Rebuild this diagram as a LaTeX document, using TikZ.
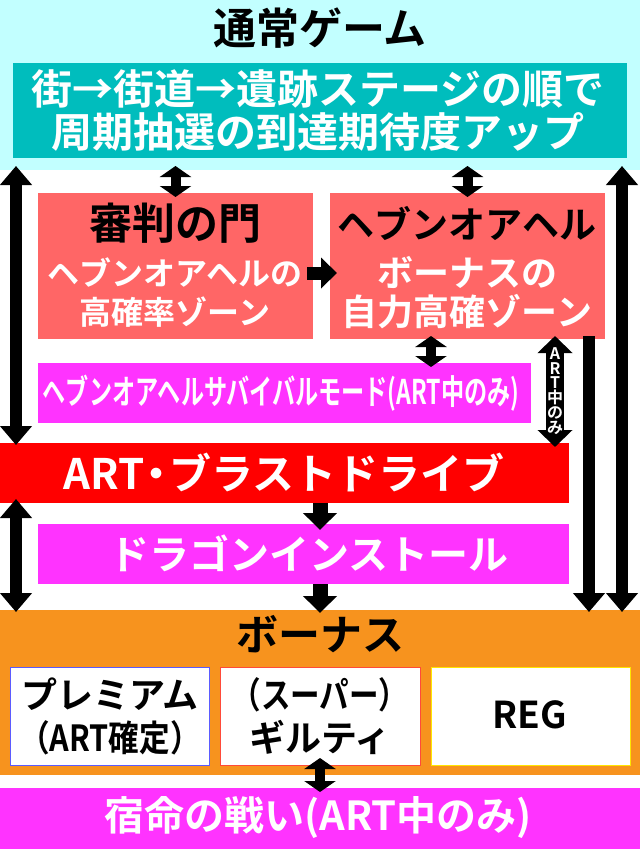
\documentclass[tikz,border=0pt]{standalone}
\usepackage{fontspec, graphicx}
\newfontfamily\jp{Noto Sans CJK JP}[UprightFont=* Bold]
\usetikzlibrary{arrows.meta, calc}
\newcommand{\jpsize}[2]{\jp\fontsize{#1}{#2}\selectfont}
\definecolor{normalcyan}{HTML}{C2FFFF}
\definecolor{stageteal}{HTML}{00BDBD}
\definecolor{zonered}{HTML}{FF6666}
\definecolor{modepink}{HTML}{FF33FF}
\definecolor{bonusorange}{HTML}{F7931E}
\definecolor{premblue}{HTML}{5B5BFF}
\definecolor{guiltyred}{HTML}{FF4A3A}
\definecolor{regyellow}{HTML}{FFE600}
\tikzset{
	panel/.style={anchor=north west, inner sep=0pt, outer sep=0pt},
	wlabel/.style={text=white, inner sep=0pt, align=center},
	blabel/.style={text=black, inner sep=0pt, align=center},
	longboth/.style={line width=12pt, {Triangle[width=31pt,length=19pt]}-{Triangle[width=31pt,length=19pt]}},
	longdown/.style={line width=12pt, -{Triangle[width=31pt,length=19pt]}},
	middown/.style={line width=15pt, -{Triangle[width=33pt,length=17pt]}},
	shortboth/.style={line width=10pt, {Triangle[width=31pt,length=11pt]}-{Triangle[width=31pt,length=11pt]}},
	artboth/.style={line width=18pt, {Triangle[width=34pt,length=17pt]}-{Triangle[width=34pt,length=17pt]}},
}

\begin{document}
\begin{tikzpicture}[x=1pt, y=-1pt]
	\useasboundingbox (0,0) rectangle (640,849);
	\fill [white] (0,0) rectangle (640,849);
	\node [panel, fill=normalcyan, minimum width=640pt, minimum height=170pt] (normal) at (0,0) {};
	\node [panel, fill=stageteal, minimum width=614pt, minimum height=95pt] (stage) at (13,63) {};
	\node [panel, fill=zonered, minimum width=275pt, minimum height=146pt] (gate) at (38,193) {};
	\node [panel, fill=zonered, minimum width=275pt, minimum height=146pt] (heaven) at (330,193) {};
	\node [panel, fill=modepink, minimum width=493pt, minimum height=60pt] (survival) at (38,363) {};
	\node [panel, fill=red, minimum width=569pt, minimum height=60pt] (art) at (0,443) {};
	\node [panel, fill=modepink, minimum width=531pt, minimum height=60pt] (dragon) at (38,524) {};
	\node [panel, fill=bonusorange, minimum width=640pt, minimum height=165pt] (bonus) at (0,610) {};
	\node [panel, fill=white, draw=premblue, line width=1pt, minimum width=199pt, minimum height=98pt] (premium) at (10,667) {};
	\node [panel, fill=white, draw=guiltyred, line width=1pt, minimum width=200pt, minimum height=98pt] (guilty) at (220,667) {};
	\node [panel, fill=white, draw=regyellow, line width=1pt, minimum width=199pt, minimum height=98pt] (reg) at (431,667) {};
	\node [panel, fill=modepink, minimum width=640pt, minimum height=61pt] (fate) at (0,788) {};

	\node [blabel, font=\jpsize{43}{45}] (normaltitle) at (320,28) {通常ゲーム};
	\node [wlabel, font=\jpsize{41}{43}] (stagetext) at (318,110) {街→街道→遺跡ステージの順で\\周期抽選の到達期待度アップ};
	\node [blabel, font=\jpsize{43}{45}] (gatetitle) at (175,223) {審判の門};
	\node [wlabel, font=\jpsize{32}{39}] (gatetext) at (175,293) {ヘブンオアヘルの\\高確率ゾーン};
	\node [blabel, font=\jpsize{37}{39}] (heaventitle) at (467,223) {ヘブンオアヘル};
	\node [wlabel, font=\jpsize{36}{39}] (heaventext) at (467,293) {ボーナスの\\自力高確ゾーン};
	\node [wlabel, font=\jpsize{34}{36}] (survivaltext) at (281,393) {\scalebox{0.68}[1]{ヘブンオアヘルサバイバルモード(ART中のみ)}};
	\node [wlabel, font=\jpsize{42}{44}] (arttext) at (284,472) {ART\kern-0.2em・\kern-0.2emブラストドライブ};
	\node [wlabel, font=\jpsize{40}{42}] (dragontext) at (309,553) {ドラゴンインストール};
	\node [blabel, font=\jpsize{42}{44}] (bonustitle) at (320,634) {ボーナス};
	\node [blabel, font=\jpsize{36}{43}] (premiumtext) at (110,716) {プレミアム\\\scalebox{0.85}[1]{（ART確定）}};
	\node [blabel, font=\jpsize{36}{43}] (guiltytext) at (320,716) {\scalebox{0.82}[1]{（スーパー）}\\ギルティ};
	\node [blabel, font=\jpsize{37}{39}] (regtext) at (530,715) {REG};
	\node [wlabel, font=\jpsize{40}{42}] (fatetext) at (318,818) {宿命の戦い(ART中のみ)};

	\coordinate (leftx) at (16,0);
	\coordinate (rightx) at (622,0);
	\coordinate (heavenx) at (589,0);
	\coordinate (artx) at (555,0);
	\coordinate (survx) at (431,0);
	\coordinate (midx) at (320,0);

	\draw [longboth] ($(leftx |- normal.south)+(0,-4)$) -- ($(leftx |- art.north)+(0,2)$);
	\draw [longboth] ($(leftx |- art.south)+(0,-4)$) -- ($(leftx |- bonus.north)+(0,2)$);
	\draw [longboth] ($(rightx |- normal.south)+(0,-4)$) -- ($(rightx |- bonus.north)+(0,2)$);
	\draw [longdown] ($(heavenx |- heaven.south)+(0,-3)$) -- ($(heavenx |- bonus.north)+(0,2)$);
	\foreach \zone in {gate, heaven}
	\draw [shortboth] ($(\zone.north |- normal.south)+(0,-4)$) -- ($(\zone.north)+(0,4)$);
	\draw [line width=13pt, -{Triangle[width=30pt,length=16pt]}] ($(gate.east)+(-6,7)$) -- ($(heaven.west)+(7,7)$);
	\draw [shortboth] ($(survx |- heaven.south)+(0,-3)$) -- ($(survx |- survival.north)+(0,4)$);
	\draw [artboth] ($(artx |- heaven.south)+(0,-3)$) -- ($(artx |- art.north)+(0,4)$);
	\node [wlabel, font=\jpsize{16}{14.8}] (artonly) at (555,391) {A\\R\\T\\中\\の\\み};
	\draw [middown] (midx |- art.south) -- ($(midx |- dragon.north)+(0,6)$);
	\draw [middown] (midx |- dragon.south) -- ($(midx |- bonus.north)+(0,3)$);
	\draw [shortboth] ($(guilty.south)+(0,-7)$) -- ($(guilty.south |- fate.north)+(0,4)$);
\end{tikzpicture}
\end{document}
